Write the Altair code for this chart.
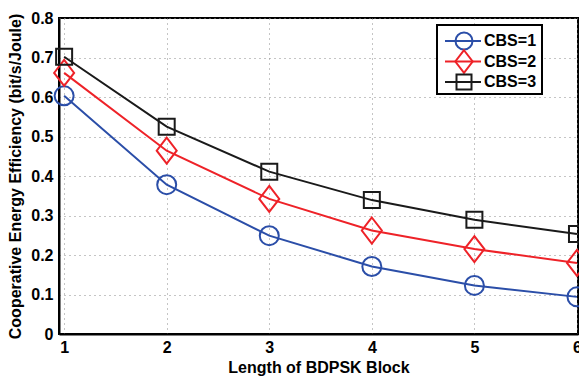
import altair as alt
import pandas as pd

block_len = [1, 2, 3, 4, 5, 6]
cbs1 = [0.603, 0.378, 0.249, 0.171, 0.123, 0.094]
cbs2 = [0.661, 0.464, 0.342, 0.262, 0.215, 0.180]
cbs3 = [0.702, 0.525, 0.411, 0.339, 0.289, 0.253]
y_ticks = [0, 0.1, 0.2, 0.3, 0.4, 0.5, 0.6, 0.7, 0.8]
names = ["CBS=1", "CBS=2", "CBS=3"]
colors = ["#2b4ea8", "#ee2228", "#1a1a1a"]
shapes = ["circle", "M0,-1.3L1,0L0,1.3L-1,0Z", "square"]
marker_sizes = [361, 400, 256]
legend_sizes = [289, 300, 225]

rows = []
for name, vals in zip(names, [cbs1, cbs2, cbs3]):
    for x, v in zip(block_len, vals):
        rows.append({"L": x, "EE": v, "series": name})
df = pd.DataFrame(rows)
leg_df = pd.DataFrame({"series": names})

FONT = "Liberation Sans"
color_scale = alt.Scale(domain=names, range=colors)

x_axis = alt.Axis(values=block_len, title="Length of BDPSK Block",
                  format="d", labelPadding=5, titlePadding=4)
y_axis = alt.Axis(values=y_ticks, tickCount=9,
                  title="Cooperative Energy Efficiency (bit/s/Joule)",
                  labelExpr="datum.value == 0 ? '0' : format(datum.value, '.1f')",
                  labelPadding=6, titlePadding=7, labelOverlap=False)
xs = alt.Scale(domain=[0.95, 6.01], nice=False)
ys = alt.Scale(domain=[0, 0.8], nice=False)

base = alt.Chart(df)
lines = base.mark_line(strokeWidth=2).encode(
    x=alt.X("L:Q", scale=xs, axis=x_axis),
    y=alt.Y("EE:Q", scale=ys, axis=y_axis),
    color=alt.Color("series:N", scale=color_scale, legend=None))

point_layers = []
for name, shp, sz in zip(names, shapes, marker_sizes):
    point_layers.append(
        base.transform_filter(alt.datum.series == name)
        .mark_point(filled=False, strokeWidth=2, opacity=1, shape=shp, size=sz)
        .encode(
            x=alt.X("L:Q", scale=xs, axis=x_axis),
            y=alt.Y("EE:Q", scale=ys, axis=y_axis),
            color=alt.Color("series:N", scale=color_scale, legend=None)))

data_layer = alt.layer(lines, *point_layers)

# legend (positions relative to the plot area)
leg_y = alt.Y("series:N", scale=alt.Scale(type="point", domain=names, range=[23, 64], padding=0), axis=None)
leg_box = alt.Chart(leg_df).mark_rect(fill="white", stroke="black", strokeWidth=2).encode(
    x=alt.value(378), x2=alt.value(483), y=alt.value(7), y2=alt.value(76))
leg_line = alt.Chart(leg_df).mark_rule(strokeWidth=2).encode(
    x=alt.value(386), x2=alt.value(422), y=leg_y,
    color=alt.Color("series:N", scale=color_scale, legend=None))
leg_pts = []
for name, shp, sz in zip(names, shapes, legend_sizes):
    leg_pts.append(
        alt.Chart(leg_df).transform_filter(alt.datum.series == name)
        .mark_point(filled=False, strokeWidth=2, opacity=1, shape=shp, size=sz)
        .encode(x=alt.value(405), y=leg_y,
                color=alt.Color("series:N", scale=color_scale, legend=None)))
leg_txt = alt.Chart(leg_df).mark_text(align="left", baseline="middle", font=FONT,
                                       fontWeight="bold", fontSize=16, color="black").encode(
    x=alt.value(425), y=leg_y, text="series:N")

legend_layer = alt.layer(leg_box, leg_line, *leg_pts, leg_txt)

chart = alt.layer(data_layer, legend_layer).resolve_scale(y="independent").properties(
    width=519, height=316,
    autosize=alt.AutoSizeParams(type="none"),
    padding={"left": 59, "top": 18, "right": 1, "bottom": 44},
).configure(background="white").configure_view(
    stroke="black", strokeWidth=2
).configure_axis(
    labelFont=FONT, titleFont=FONT, labelFontSize=16, titleFontSize=16,
    labelFontWeight="bold", titleFontWeight="bold", labelColor="black", titleColor="black",
    grid=True, gridColor="#8a8a8a", gridDash=[1, 4], gridWidth=1,
    domainColor="black", domainWidth=2, tickColor="black", tickSize=0,
)

chart.save("out.html", embed_options={"renderer": "svg", "actions": False})
